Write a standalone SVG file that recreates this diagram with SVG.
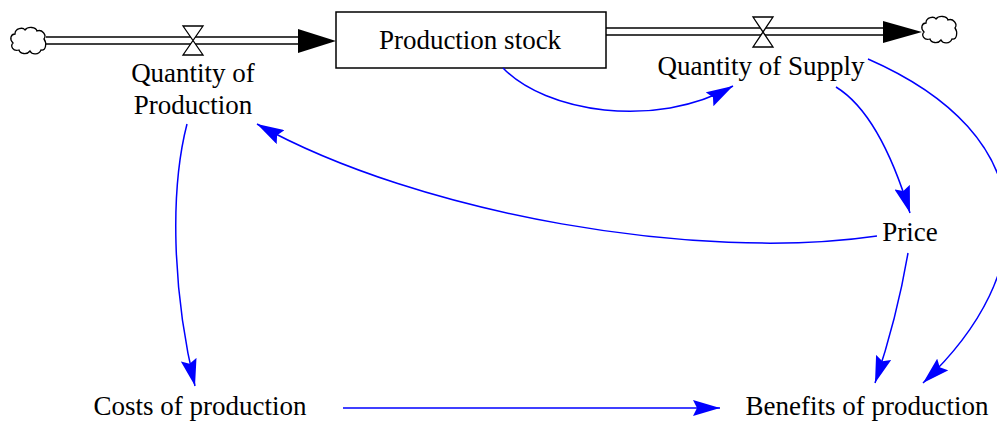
<svg xmlns="http://www.w3.org/2000/svg" width="997" height="425" viewBox="0 0 997 425">
<style>
.lbl{font-family:"Liberation Serif","Times New Roman",serif;font-size:27px;fill:#000;text-anchor:middle}
.pipe{stroke:#000;stroke-width:1.6;fill:none}
.valve{stroke:#000;stroke-width:1.3;fill:#fff}
.cloud{stroke:#000;stroke-width:1.3;fill:#fff}
.link{stroke:#0000ff;stroke-width:1.5;fill:none;marker-end:url(#ah)}
</style>
<defs>
<marker id="ah" markerUnits="userSpaceOnUse" markerWidth="28" markerHeight="16" refX="27" refY="8" orient="auto">
<path d="M0,0 L27,8 L0,16 L4,8 Z" fill="#0000ff"/>
</marker>
<path id="cloudShape" d="M5,8 C5,2 13,1 15,4 C18,0 26,1 27,5 C32,3 37,9 34,13 C37,17 36,25 31,24 C29,29 22,29 20,25 C17,29 10,28 9,24 C3,26 0,20 3,17 C-1,13 1,8 5,8 Z"/>
</defs>
<rect width="997" height="425" fill="#fff"/>

<g id="flow-production">
<line class="pipe" x1="46" y1="37" x2="300" y2="37"/>
<line class="pipe" x1="46" y1="44" x2="300" y2="44"/>
<polygon points="298,29 336,41 298,53" fill="#000"/>
<path class="valve" d="M183,26 H203 L183,55 H203 Z"/>
<use href="#cloudShape" class="cloud" transform="translate(10,26)"/>
<text class="lbl" x="193" y="82">Quantity of</text>
<text class="lbl" x="193" y="114">Production</text>
</g>

<g id="stock">
<rect x="336" y="12" width="270" height="56" fill="#fff" stroke="#000" stroke-width="1.5"/>
<text class="lbl" x="470" y="49">Production stock</text>
</g>

<g id="flow-supply">
<line class="pipe" x1="606" y1="28" x2="886" y2="28"/>
<line class="pipe" x1="606" y1="35" x2="886" y2="35"/>
<polygon points="883,21 922,32 883,43" fill="#000"/>
<path class="valve" d="M753,17 H773 L753,47 H773 Z"/>
<use href="#cloudShape" class="cloud" transform="translate(921,15)"/>
<text class="lbl" x="761" y="75">Quantity of Supply</text>
</g>

<g id="price">
<text class="lbl" x="910" y="241">Price</text>
</g>

<g id="costs">
<text class="lbl" x="200" y="415">Costs of production</text>
</g>

<g id="benefits">
<text class="lbl" x="867" y="415">Benefits of production</text>
</g>

<g id="connectors">
<path class="link" d="M503,68 C545,112 655,130 733,86"/>
<path class="link" d="M836,87 Q880,114 910,213"/>
<path class="link" d="M868,59 C1044,136 1042,271 923,383"/>
<path class="link" d="M877,236 C700,262 420,215 257,124"/>
<path class="link" d="M187,124 C170,190 172,290 195,386"/>
<path class="link" d="M343,408 L720,408"/>
<path class="link" d="M908,253 Q897,318 875,383"/>
</g>
</svg>
